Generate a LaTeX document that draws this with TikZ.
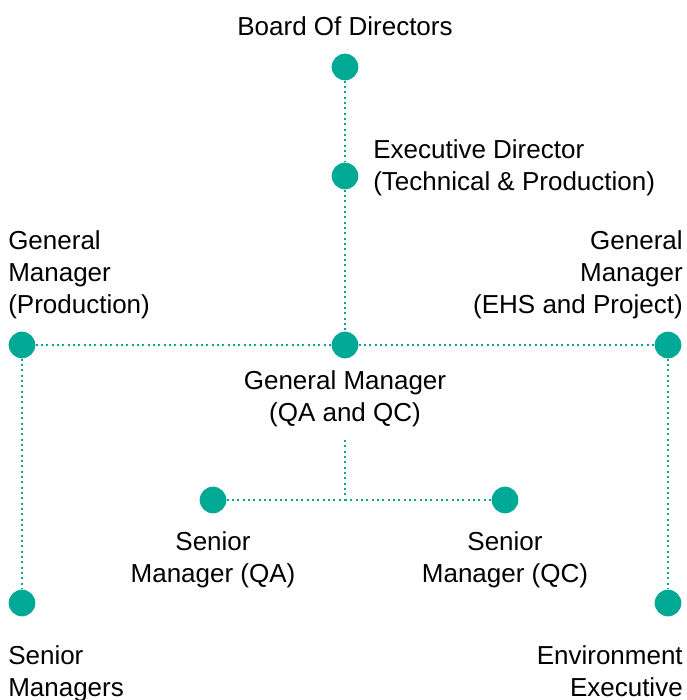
\documentclass[tikz,border=0pt]{standalone}
\usepackage{fontspec}
\setmainfont{Liberation Sans}
\usepackage{xcolor}
\usepackage{tikz}
\definecolor{orgteal}{RGB}{0,168,150}
\tikzset{
  orgdot/.style={
    circle,
    fill=orgteal,
    inner sep=0pt,
    minimum size=20pt
  },
  orglabel/.style={
    inner sep=0pt,
    font=\fontsize{19.5}{24}\selectfont
  },
  orglink/.style={
    draw=orgteal,
    line width=1.5pt,
    dash pattern=on 1.5pt off 2.5pt
  }
}
\begin{document}
\begin{tikzpicture}[x=0.75pt,y=-0.75pt]
\useasboundingbox (0,0) rectangle (686,700);
% dots
\node[orgdot] (board) at (345,67) {};
\node[orgdot] (exec) at (345,176) {};
\node[orgdot] (gmprod) at (22,345) {};
\node[orgdot] (gmqa) at (345,345) {};
\node[orgdot] (gmehs) at (668,345) {};
\node[orgdot] (smqa) at (213,500) {};
\node[orgdot] (smqc) at (505,500) {};
\node[orgdot] (srmgr) at (22,603) {};
\node[orgdot] (envexec) at (668,603) {};
\coordinate (qatop) at (345,440);
\coordinate (qajoin) at (345,500);

% labels
\node[orglabel, anchor=north] (boardtxt) at (345,16) {Board Of Directors};
\node[orglabel, anchor=north west, align=left] (exectxt) at (373,139) {Executive Director\\(Technical \& Production)};
\node[orglabel, anchor=north west, align=left] (gmprodtxt) at (8,230) {General\\Manager\\(Production)};
\node[orglabel, anchor=north east, align=right] (gmehstxt) at (683,230) {General\\Manager\\(EHS and Project)};
\node[orglabel, anchor=north, align=center] (gmqatxt) at (345,370) {General Manager\\(QA and QC)};
\node[orglabel, anchor=north, align=center] (smqatxt) at (213,531) {Senior\\Manager (QA)};
\node[orglabel, anchor=north, align=center] (smqctxt) at (505,531) {Senior\\Manager (QC)};
\node[orglabel, anchor=north west, align=left] (srmgrtxt) at (8,645) {Senior\\Managers};
\node[orglabel, anchor=north east, align=right] (envexectxt) at (683,645) {Environment\\Executive};

% links
\draw[orglink] (board) -- (exec);
\draw[orglink] (exec) -- (gmqa);
\draw[orglink] (gmprod) -- (gmqa);
\draw[orglink] (gmqa) -- (gmehs);
\draw[orglink] (qatop) -- (qajoin);
\draw[orglink] (smqa) -- (qajoin);
\draw[orglink] (qajoin) -- (smqc);
\draw[orglink] (gmprod) -- (srmgr);
\draw[orglink] (gmehs) -- (envexec);
\end{tikzpicture}
\end{document}
